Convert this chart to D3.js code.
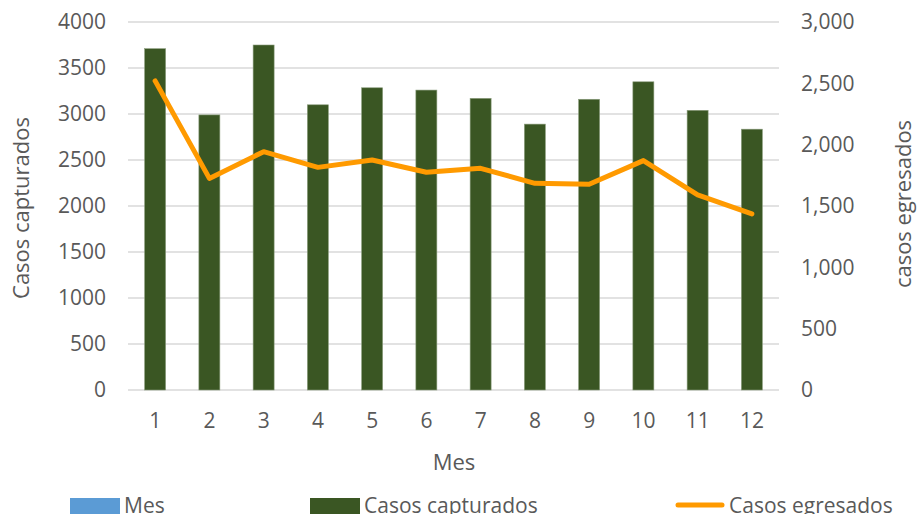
<!DOCTYPE html>
<html>
<head>
<meta charset="utf-8">
<script src="https://cdn.jsdelivr.net/npm/d3@7"></script>
<style>
  html, body { margin: 0; padding: 0; background: #fff; }
  svg { display: block; font-family: "Open Sans", "Noto Sans", sans-serif; }
</style>
</head>
<body>
<svg id="chart" width="917" height="514"></svg>
<script>
// Monthly data
const meses = ["1", "2", "3", "4", "5", "6", "7", "8", "9", "10", "11", "12"];
const casosCapturados = [3710, 2990, 3750, 3100, 3285, 3260, 3170, 2890, 3160, 3350, 3040, 2835];
const casosEgresados = [2520, 1725, 1943, 1815, 1875, 1775, 1807, 1685, 1677, 1870, 1590, 1435];
const leftTicks = [0, 500, 1000, 1500, 2000, 2500, 3000, 3500, 4000];
const rightTicks = [0, 500, 1000, 1500, 2000, 2500, 3000];
const legendItems = ["Mes", "Casos capturados", "Casos egresados"];

const svg = d3.select("#chart");
const textColor = "#595959";
const tickFont = 21;
const titleFont = 22;

const plot = { left: 128, right: 779, top: 22, bottom: 390 };

const x = d3.scaleBand()
  .domain(meses)
  .range([plot.left, plot.right])
  .paddingInner(0.613)
  .paddingOuter(0.3065);

const yLeft = d3.scaleLinear().domain([0, 4000]).range([plot.bottom, plot.top]);
const yRight = d3.scaleLinear().domain([0, 3000]).range([plot.bottom, plot.top]);

// Gridlines
svg.append("g")
  .selectAll("line")
  .data(leftTicks)
  .join("line")
  .attr("x1", plot.left)
  .attr("x2", plot.right)
  .attr("y1", d => yLeft(d))
  .attr("y2", d => yLeft(d))
  .attr("stroke", "#d9d9d9")
  .attr("stroke-width", 1.5);

function styleAxis(g) {
  g.select(".domain").remove();
  g.selectAll("text")
    .attr("fill", textColor)
    .attr("font-size", tickFont)
    .attr("font-family", "Open Sans");
}

// Left axis
svg.append("g")
  .attr("transform", `translate(${plot.left},0)`)
  .call(d3.axisLeft(yLeft).tickValues(leftTicks).tickSize(0).tickPadding(22).tickFormat(d3.format("d")))
  .call(styleAxis);

// Right axis
svg.append("g")
  .attr("transform", `translate(${plot.right},0)`)
  .call(d3.axisRight(yRight).tickValues(rightTicks).tickSize(0).tickPadding(22).tickFormat(d3.format(",")))
  .call(styleAxis);

// Bottom axis
svg.append("g")
  .attr("transform", `translate(0,${plot.bottom})`)
  .call(d3.axisBottom(x).tickSize(0).tickPadding(23))
  .call(styleAxis);

// Bars
svg.append("g")
  .selectAll("rect")
  .data(casosCapturados)
  .join("rect")
  .attr("x", (d, i) => x(meses[i]))
  .attr("y", d => yLeft(d))
  .attr("width", x.bandwidth())
  .attr("height", d => yLeft(0) - yLeft(d))
  .attr("fill", "#3a5623")
  .attr("stroke", "#8a9c7c")
  .attr("stroke-width", 0.6);

// Line
const line = d3.line()
  .x((d, i) => x(meses[i]) + x.bandwidth() / 2)
  .y(d => yRight(d));

svg.append("path")
  .datum(casosEgresados)
  .attr("d", line)
  .attr("fill", "none")
  .attr("stroke", "#ff9a00")
  .attr("stroke-width", 5)
  .attr("stroke-linejoin", "round")
  .attr("stroke-linecap", "round");

// Axis titles
svg.append("text")
  .attr("x", 454)
  .attr("y", 470)
  .attr("text-anchor", "middle")
  .attr("fill", textColor)
  .attr("font-size", titleFont)
  .text("Mes");

svg.append("text")
  .attr("transform", "translate(29,208) rotate(-90)")
  .attr("text-anchor", "middle")
  .attr("fill", textColor)
  .attr("font-size", titleFont)
  .text("Casos capturados");

svg.append("text")
  .attr("transform", "translate(911,204) rotate(-90)")
  .attr("text-anchor", "middle")
  .attr("fill", textColor)
  .attr("font-size", titleFont)
  .text("casos egresados");

// Legend
const legendX = [70, 310, 675];
const legend = svg.append("g");
legendItems.forEach((name, i) => {
  const g = legend.append("g").attr("transform", `translate(${legendX[i]},0)`);
  if (i === 2) {
    g.append("line")
      .attr("x1", 3).attr("x2", 47)
      .attr("y1", 505).attr("y2", 505)
      .attr("stroke", "#ff9a00")
      .attr("stroke-width", 5)
      .attr("stroke-linecap", "round");
  } else {
    g.append("rect")
      .attr("x", 0).attr("y", 498)
      .attr("width", 50).attr("height", 16)
      .attr("fill", i === 0 ? "#5b9bd5" : "#3a5623");
  }
  g.append("text")
    .attr("x", 54)
    .attr("y", 513)
    .attr("fill", textColor)
    .attr("font-size", 21)
    .text(name);
});
</script>
</body>
</html>
